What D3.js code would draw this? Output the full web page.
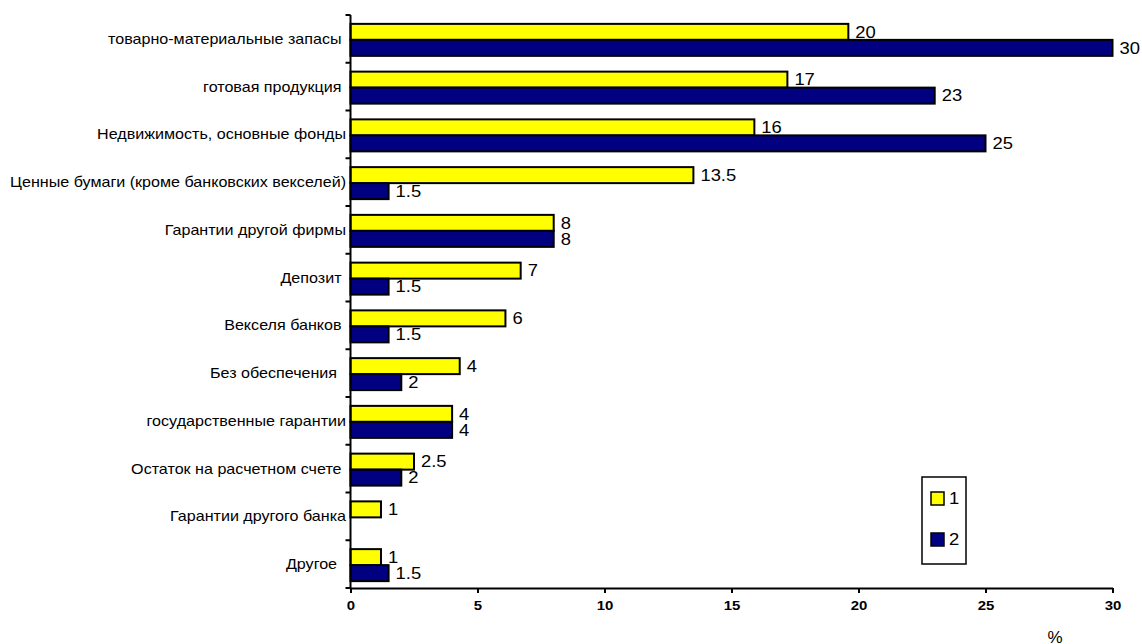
<!DOCTYPE html>
<html><head><meta charset="utf-8">
<script src="https://cdn.jsdelivr.net/npm/d3@7"></script>
<style>
body{margin:0;background:#fff}
svg{display:block}
text{font-family:"Liberation Sans", Arial, sans-serif; white-space:pre}
</style></head><body>
<script>
const categories = [
  "товарно-материальные запасы ",
  "готовая продукция ",
  "Недвижимость, основные фонды",
  "Ценные бумаги (кроме банковских векселей)",
  "Гарантии другой фирмы",
  "Депозит ",
  "Векселя банков ",
  "Без обеспечения  ",
  "государственные гарантии",
  "Остаток на расчетном счете ",
  "Гарантии другого банка",
  "Другое  "
];
const series1 = [19.6, 17.2, 15.9, 13.5, 8, 6.7, 6.1, 4.3, 4, 2.5, 1.2, 1.2];
const series2 = [30, 23, 25, 1.5, 8, 1.5, 1.5, 2, 4, 2, null, 1.5];
const labels1 = ["20","17","16","13.5","8","7","6","4","4","2.5","1","1"];
const labels2 = ["30","23","25","1.5","8","1.5","1.5","2","4","2","","1.5"];
const xTicks = [0,5,10,15,20,25,30];
const seriesNames = ["1","2"];
const unitLabel = "%";

const W = 1142, H = 644;
const colors = ["#FFFF00", "#000080"];
const SX = 1.15; // horizontal text stretch of the reference

const svg = d3.select("body").append("svg").attr("width", W).attr("height", H);

const x = d3.scaleLinear().domain([0, 30]).range([350.5, 1112.5]);
const y = d3.scaleBand().domain(d3.range(categories.length)).range([15, 588]).paddingInner(0.33).paddingOuter(0.165);
const step = y.step();
const bh = y.bandwidth() / 2;

// bars
const rows = categories.map((c, i) => ({i, v1: series1[i], v2: series2[i], l1: labels1[i], l2: labels2[i]}));
const g = svg.append("g");
rows.forEach(r => {
  [[r.v1, r.l1, 0], [r.v2, r.l2, 1]].forEach(([v, l, k]) => {
    if (v == null) return;
    const y0 = y(r.i) + 1 + k * bh;
    g.append("rect")
      .attr("x", x(0)).attr("y", y0)
      .attr("width", x(v) - x(0)).attr("height", bh)
      .attr("fill", colors[k]).attr("stroke", "#000").attr("stroke-width", 2);
    g.append("g").attr("transform", `translate(${x(v) + 7},${y0 + bh / 2}) scale(${SX},1)`)
      .append("text").attr("dy", "0.36em").attr("font-size", 16).attr("fill", "#000").text(l);
  });
});

// y axis (category boundaries ticks)
const ya = svg.append("g");
ya.append("line").attr("x1", x(0)).attr("x2", x(0)).attr("y1", 15).attr("y2", 588)
  .attr("stroke", "#000").attr("stroke-width", 2);
d3.range(categories.length + 1).forEach(i => {
  const yy = 15 + i * step;
  ya.append("line").attr("x1", x(0) - 5).attr("x2", x(0)).attr("y1", yy).attr("y2", yy)
    .attr("stroke", "#000").attr("stroke-width", 2);
});
categories.forEach((c, i) => {
  ya.append("g").attr("transform", `translate(346,${y(i) + y.bandwidth() / 2}) scale(${SX},1)`)
    .append("text").attr("text-anchor", "end").attr("dy", "0.35em").attr("font-size", 14).attr("fill", "#000").text(c);
});

// x axis
const xa = svg.append("g").attr("transform", "translate(0,588)");
const axis = d3.axisBottom(x).tickValues(xTicks).tickSize(5).tickSizeOuter(0).tickFormat(d3.format("d"));
xa.call(axis);
xa.select(".domain").attr("stroke-width", 2);
xa.selectAll(".tick line").attr("stroke-width", 2);
xa.selectAll(".tick text").remove();
xa.selectAll(".tick").append("g").attr("transform", `translate(0,22) scale(${SX},1)`)
  .append("text").attr("text-anchor", "middle").attr("font-size", 13).attr("font-weight", "bold").attr("fill", "#000")
  .attr("font-family", "Liberation Sans, Arial, sans-serif")
  .text(d => d3.format("d")(d));

// unit label
svg.append("text").attr("x", 1055).attr("y", 643).attr("text-anchor", "middle")
  .attr("font-family", "Liberation Serif, Times New Roman, serif").attr("font-size", 17).text(unitLabel);

// legend
const lg = svg.append("g");
lg.append("rect").attr("x", 922).attr("y", 477).attr("width", 44).attr("height", 87)
  .attr("fill", "#fff").attr("stroke", "#000").attr("stroke-width", 1.5);
seriesNames.forEach((n, k) => {
  const yy = 492 + k * 41;
  lg.append("rect").attr("x", 931).attr("y", yy).attr("width", 13).attr("height", 13)
    .attr("fill", colors[k]).attr("stroke", "#000").attr("stroke-width", 1.5);
  lg.append("g").attr("transform", `translate(949,${yy + 6.5}) scale(${SX},1)`)
    .append("text").attr("dy", "0.36em").attr("font-size", 16).attr("fill", "#000").text(n);
});
</script>
</body></html>
